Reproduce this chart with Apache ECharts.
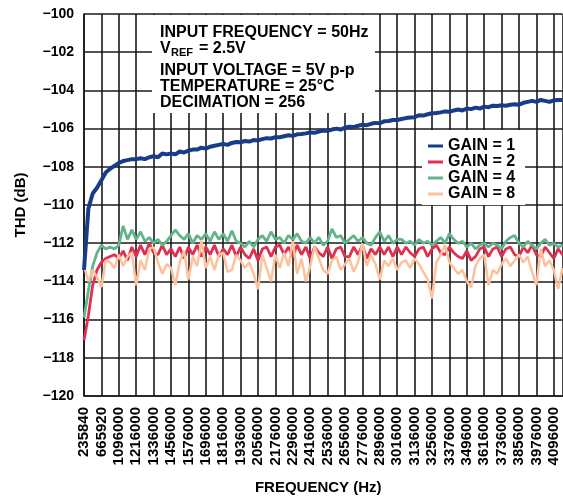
<!DOCTYPE html>
<html>
<head>
<meta charset="utf-8">
<script src="https://cdn.jsdelivr.net/npm/echarts@6/dist/echarts.min.js"></script>
<style>
  html, body { margin: 0; padding: 0; background: #fff; }
  #chart { width: 563px; height: 500px; }
</style>
</head>
<body>
<div id="chart"></div>
<script>
// tick labels of the frequency axis (evenly spaced on the plot)
const freqLabels = ['235840', '665920', '1096000', '1216000', '1336000', '1456000', '1576000',
    '1696000', '1816000', '1936000', '2056000', '2176000', '2296000', '2416000', '2536000',
    '2656000', '2776000', '2896000', '3016000', '3136000', '3256000', '3376000', '3496000',
    '3616000', '3736000', '3856000', '3976000', '4096000'];

// one reading every quarter of a label spacing
const SAMPLE_STEP = 0.25;

const gain1 = [-113.4, -110.2, -109.4, -109.1, -108.7, -108.3, -108.1, -107.95, -107.8, -107.7,
    -107.65, -107.6, -107.6, -107.55, -107.6, -107.5, -107.45, -107.5, -107.3, -107.35,
    -107.3, -107.35, -107.2, -107.25, -107.15, -107.1, -107.1, -107.0, -107.05, -106.95,
    -106.9, -106.85, -106.8, -106.85, -106.75, -106.7, -106.72, -106.65, -106.68, -106.6,
    -106.62, -106.55, -106.5, -106.52, -106.45, -106.45, -106.4, -106.35, -106.38, -106.3,
    -106.28, -106.25, -106.2, -106.22, -106.15, -106.1, -106.12, -106.05, -106.0, -106.05,
    -105.95, -105.9, -105.92, -105.85, -105.8, -105.82, -105.75, -105.7, -105.72, -105.62,
    -105.6, -105.55, -105.55, -105.5, -105.45, -105.42, -105.4, -105.3, -105.32, -105.25,
    -105.2, -105.18, -105.15, -105.1, -105.12, -105.05, -105.0, -105.05, -104.95, -104.98,
    -104.9, -104.95, -104.85, -104.88, -104.8, -104.82, -104.78, -104.8, -104.75, -104.72,
    -104.75, -104.65, -104.6, -104.55, -104.6, -104.5, -104.55, -104.6, -104.52, -104.5,
    -104.5];

const gain2 = [-117.1, -115.8, -114.2, -113.4, -113.0, -112.8, -112.7, -112.6, -112.8, -112.4,
    -112.9, -112.2, -112.7, -112.1, -112.6, -112.0, -112.5, -112.6, -112.1, -112.6,
    -112.3, -112.7, -112.2, -112.8, -112.2, -112.6, -112.1, -112.7, -112.2, -112.6,
    -112.1, -112.7, -112.3, -112.6, -112.1, -112.7, -112.2, -112.6, -112.8, -112.3,
    -112.9, -112.3, -112.2, -112.7, -112.2, -112.1, -112.6, -112.2, -112.7, -112.1,
    -112.6, -112.2, -112.8, -112.2, -112.5, -112.7, -112.2, -112.8, -112.3, -112.2,
    -112.7, -112.7, -112.2, -112.6, -112.1, -112.8, -112.3, -112.6, -112.2, -112.6,
    -112.2, -112.7, -112.2, -112.6, -112.2, -112.5, -112.7, -112.3, -112.2, -112.7,
    -112.3, -112.1, -112.5, -112.6, -112.2, -112.5, -112.7, -112.8, -112.4, -112.9,
    -112.7, -112.3, -112.2, -112.7, -112.3, -112.2, -112.7, -112.3, -112.2, -112.6,
    -112.7, -112.2, -112.5, -112.1, -112.6, -112.7, -112.2, -112.5, -112.8, -112.3,
    -112.6];

const gain4 = [-115.9, -114.5, -113.2, -112.5, -112.1, -112.3, -112.2, -112.3, -112.1, -111.1,
    -111.8, -111.3, -111.8, -111.4, -111.9, -111.7, -112.0, -111.8, -112.1, -111.9,
    -111.6, -111.3, -111.6, -111.8, -111.5, -112.0, -111.6, -111.8, -111.5, -111.9,
    -111.4, -111.8, -111.5, -111.9, -111.35, -111.9, -112.0, -112.2, -111.9, -112.2,
    -111.8, -111.6, -111.9, -111.4, -111.8, -111.7, -112.0, -111.6, -111.8, -111.5,
    -111.9, -112.0, -111.7, -112.0, -111.7, -112.1, -111.9, -111.25, -111.7, -111.6,
    -112.0, -111.8, -111.6, -111.9, -111.7, -112.0, -112.1, -111.7, -111.4, -111.9,
    -111.6, -112.0, -111.8, -111.8, -112.0, -111.9, -112.1, -111.8, -112.0, -111.9,
    -112.1, -111.9, -111.7, -112.0, -111.5, -111.8, -112.0, -111.9, -112.2, -112.0,
    -112.3, -112.1, -112.0, -112.2, -112.0, -112.1, -112.3, -111.9, -111.7, -111.6,
    -112.0, -112.2, -111.9, -112.1, -112.3, -112.0, -111.8, -112.1, -112.0, -112.2,
    -112.1];

const gain8 = [-113.2, -114.0, -113.4, -113.8, -114.3, -112.9, -113.0, -113.3, -112.6, -113.2,
    -112.7, -112.5, -114.2, -112.9, -113.4, -112.3, -112.2, -113.0, -113.6, -113.1,
    -113.3, -114.2, -113.0, -112.4, -113.9, -112.7, -113.2, -111.9, -113.3, -112.7,
    -113.4, -112.6, -112.5, -113.5, -113.4, -112.6, -112.9, -113.3, -113.0, -113.6,
    -114.4, -112.6, -113.3, -114.0, -112.6, -113.3, -112.5, -113.2, -111.9, -113.6,
    -112.8, -114.0, -113.2, -112.2, -112.8, -113.4, -113.6, -112.9, -112.7, -113.4,
    -113.1, -112.8, -113.5, -113.0, -112.0, -113.2, -112.6, -113.1, -113.9, -112.9,
    -113.2, -112.8, -113.4, -113.0, -112.9, -113.3, -112.8, -113.1, -113.5, -113.9,
    -114.9, -113.0, -112.6, -112.1, -113.0, -113.3, -113.6, -113.4, -114.0, -114.3,
    -113.2, -112.8, -112.6, -114.2, -113.4, -113.6, -113.1, -112.8, -113.2, -112.9,
    -112.6, -113.0, -112.7, -113.5, -114.2, -112.3, -113.2, -112.9, -113.4, -114.4,
    -113.3];

const FONT = '"Liberation Sans", Arial, sans-serif';
const INK = '#1a1a1a';

function toPoints(values) {
    return values.map((v, i) => [i * SAMPLE_STEP, v]);
}

const chart = echarts.init(document.getElementById('chart'), null, {renderer: 'canvas'});

chart.setOption({
    animation: false,
    backgroundColor: '#fff',
    grid: {left: 84, top: 14, width: 478.5, height: 384, containLabel: false},
    xAxis: {
        type: 'value',
        min: 0,
        max: 27.5,
        interval: 1,
        name: 'FREQUENCY (Hz)',
        nameLocation: 'middle',
        nameGap: 84,
        nameTextStyle: {fontFamily: FONT, fontWeight: 'bold', fontSize: 15, color: '#000', padding: [0, 10, 0, 0]},
        axisLine: {show: true, lineStyle: {color: INK, width: 1.6}},
        axisTick: {show: false},
        splitLine: {show: true, lineStyle: {color: INK, width: 1.6}},
        axisLabel: {
            rotate: 90,
            margin: 11,
            fontFamily: FONT,
            fontWeight: 'bold',
            fontSize: 15,
            color: '#000',
            showMaxLabel: false,
            formatter: v => (Number.isInteger(v) && freqLabels[v]) ? freqLabels[v] : ''
        }
    },
    yAxis: {
        type: 'value',
        min: -120,
        max: -100,
        interval: 2,
        name: 'THD (dB)',
        nameLocation: 'middle',
        nameGap: 56,
        nameTextStyle: {fontFamily: FONT, fontWeight: 'bold', fontSize: 15, color: '#000'},
        axisLine: {show: true, lineStyle: {color: INK, width: 1.6}},
        axisTick: {show: false},
        splitLine: {show: true, lineStyle: {color: INK, width: 1.6}},
        axisLabel: {
            margin: 10,
            fontFamily: FONT,
            fontWeight: 'bold',
            fontSize: 14,
            color: '#000',
            formatter: v => String(v).replace('-', '\u2212')
        }
    },
    legend: {
        data: ['GAIN = 1', 'GAIN = 2', 'GAIN = 4', 'GAIN = 8'],
        orient: 'vertical',
        left: 422,
        top: 130,
        padding: [8, 10, 3, 6],
        itemGap: 0,
        itemWidth: 15,
        itemHeight: 3,
        icon: 'rect',
        backgroundColor: '#fff',
        textStyle: {fontFamily: FONT, fontWeight: 'bold', fontSize: 16, color: '#000', lineHeight: 15}
    },
    graphic: [
        {type: 'rect', z: 100, shape: {x: 152, y: 15, width: 223, height: 98}, style: {fill: '#fff'}},
        {type: 'text', z: 101, x: 160, y: 33, style: {text: 'INPUT FREQUENCY = 50Hz', font: 'bold 16px ' + FONT, fill: '#000', verticalAlign: 'middle'}},
        {type: 'text', z: 101, x: 160, y: 49, style: {text: 'V', font: 'bold 16px ' + FONT, fill: '#000', verticalAlign: 'middle'}},
        {type: 'text', z: 101, x: 171, y: 53, style: {text: 'REF', font: 'bold 11px ' + FONT, fill: '#000', verticalAlign: 'middle'}},
        {type: 'text', z: 101, x: 199, y: 49, style: {text: '= 2.5V', font: 'bold 16px ' + FONT, fill: '#000', verticalAlign: 'middle'}},
        {type: 'text', z: 101, x: 160, y: 71, style: {text: 'INPUT VOLTAGE = 5V p-p', font: 'bold 16px ' + FONT, fill: '#000', verticalAlign: 'middle'}},
        {type: 'text', z: 101, x: 160, y: 87, style: {text: 'TEMPERATURE = 25°C', font: 'bold 16px ' + FONT, fill: '#000', verticalAlign: 'middle'}},
        {type: 'text', z: 101, x: 160, y: 103, style: {text: 'DECIMATION = 256', font: 'bold 16px ' + FONT, fill: '#000', verticalAlign: 'middle'}}
    ],
    series: [
        {name: 'GAIN = 2', type: 'line', data: toPoints(gain2), showSymbol: false, color: '#e1304f', lineStyle: {width: 2.8}},
        {name: 'GAIN = 4', type: 'line', data: toPoints(gain4), showSymbol: false, color: '#62b48b', lineStyle: {width: 2.8}},
        {name: 'GAIN = 8', type: 'line', data: toPoints(gain8), showSymbol: false, color: '#fdc29c', lineStyle: {width: 2.5}},
        {name: 'GAIN = 1', type: 'line', data: toPoints(gain1), showSymbol: false, color: '#173c88', lineStyle: {width: 4}}
    ]
});
</script>
</body>
</html>
